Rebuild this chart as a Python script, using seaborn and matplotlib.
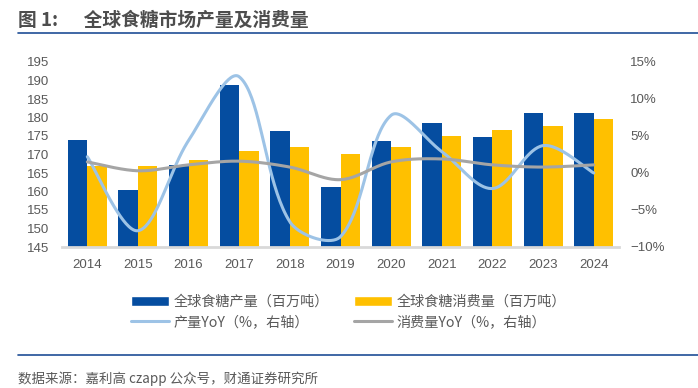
import numpy as np
import matplotlib
matplotlib.use("Agg")
import matplotlib.pyplot as plt
import pandas as pd
import seaborn as sns
from matplotlib.patches import Patch
from matplotlib.lines import Line2D
from matplotlib.ticker import FuncFormatter

# datos
years = ['2014', '2015', '2016', '2017', '2018', '2019', '2020', '2021', '2022', '2023', '2024']
production = [173.9, 160.4, 167.2, 188.8, 176.4, 161.2, 173.6, 178.5, 174.7, 181.2, 181.2]
consumption = [166.9, 167.0, 168.5, 171.0, 172.0, 170.1, 172.0, 175.0, 176.6, 177.7, 179.6]
prod_yoy = [2.2, -7.8, 4.4, 13.0, -6.6, -8.6, 7.8, 2.9, -2.1, 3.7, 0.0]
cons_yoy = [1.5, 0.3, 1.1, 1.6, 0.8, -0.9, 1.5, 1.9, 1.1, 0.8, 1.1]

blue = '#054DA0'
yellow = '#FFC000'
lblue = '#9DC3E6'
grey = '#A5A5A5'
txt = '#595959'

sns.set_style('white')
plt.rcParams['font.family'] = ['Noto Sans CJK SC', 'DejaVu Sans']


def smooth(y, n=40, sx=50.6, sy=7.4):
    # curva suavizada (bezier con tangentes ponderadas por la cuerda, estilo Excel) solo para dibujar
    P = np.column_stack([np.arange(len(y)) * sx, np.asarray(y, dtype=float) * sy])
    Q = np.vstack([P[0], P, P[-1]])
    xs, ys = [], []
    t = np.linspace(0, 1, n, endpoint=False)[:, None]
    for i in range(len(P) - 1):
        p0, p1, p2, p3 = Q[i], Q[i + 1], Q[i + 2], Q[i + 3]
        l0 = np.linalg.norm(p1 - p0)
        l1 = np.linalg.norm(p2 - p1)
        l2 = np.linalg.norm(p3 - p2)
        c1 = p1 + (p2 - p0) * (l1 / (l0 + l1) if l0 > 0 else 0.5) / 3
        c2 = p2 - (p3 - p1) * (l1 / (l1 + l2) if l2 > 0 else 0.5) / 3
        b = (1 - t) ** 3 * p1 + 3 * (1 - t) ** 2 * t * c1 + 3 * (1 - t) * t ** 2 * c2 + t ** 3 * p2
        xs.extend(b[:, 0] / sx)
        ys.extend(b[:, 1] / sy)
    xs.append(P[-1, 0] / sx)
    ys.append(P[-1, 1] / sy)
    return np.array(xs), np.array(ys)


df = pd.DataFrame({
    'year': years * 2,
    'value': production + consumption,
    'series': ['prod'] * len(years) + ['cons'] * len(years),
})

fig = plt.figure(figsize=(6.98, 3.88), dpi=100)
ax = fig.add_axes([62 / 698, 1 - 247 / 388, (619 - 62) / 698, (247 - 62) / 388])

sns.barplot(data=df, x='year', y='value', hue='series', palette=[blue, yellow],
            width=0.77, saturation=1, linewidth=0, legend=False, ax=ax)
ax.set_ylim(145, 195)
ax.set_yticks(range(145, 196, 5))
ax.set_xlim(-0.5, 10.5)
ax.set_xlabel('')
ax.set_ylabel('')
for s in ['top', 'left', 'right']:
    ax.spines[s].set_visible(False)
ax.spines['bottom'].set_color('#D9D9D9')
ax.spines['bottom'].set_linewidth(2)
ax.tick_params(axis='both', length=0, labelsize=9.5, labelcolor=txt)
ax.tick_params(axis='x', pad=9)
ax.tick_params(axis='y', pad=9)
for lab in ax.get_xticklabels() + ax.get_yticklabels():
    lab.set_family('Liberation Sans')

ax2 = ax.twinx()
xs, ys = smooth(prod_yoy)
sns.lineplot(x=xs, y=ys, sort=False, color=lblue, linewidth=2.2, ax=ax2)
xs, ys = smooth(cons_yoy)
sns.lineplot(x=xs, y=ys, sort=False, color=grey, linewidth=2.2, ax=ax2)
ax2.set_ylim(-10, 15)
ax2.set_yticks(range(-10, 16, 5))
ax2.yaxis.set_major_formatter(FuncFormatter(lambda v, p: f'{v:.0f}%'.replace('-', '\u2212')))
for s in ['top', 'left', 'right', 'bottom']:
    ax2.spines[s].set_visible(False)
ax2.tick_params(axis='y', length=0, labelsize=9.5, labelcolor=txt, pad=8)
for lab in ax2.get_yticklabels():
    lab.set_family('Liberation Sans')
ax2.set_xlim(-0.5, 10.5)

handles = [
    Patch(facecolor=blue), Line2D([], [], color=lblue, lw=2.2),
    Patch(facecolor=yellow), Line2D([], [], color=grey, lw=2.2),
]
labels = ['全球食糖产量（百万吨）', '产量YoY（%，右轴）',
          '全球食糖消费量（百万吨）', '消费量YoY（%，右轴）']
fig.legend(handles, labels, ncol=2, loc='upper left', bbox_to_anchor=(118 / 698, 1 - 282 / 388),
           frameon=False, fontsize=10.2, labelcolor=txt, handlelength=2.7, handleheight=0.7,
           handletextpad=0.3, columnspacing=1.8, labelspacing=0.45)

fig.text(18 / 698, 1 - 20 / 388, '图 1:      全球食糖市场产量及消费量', fontsize=13.5,
         fontweight='bold', color='#4D4D4D', va='center', ha='left')
fig.add_artist(Line2D([18 / 698, 1], [1 - 33 / 388] * 2, color='#1F4E96', lw=1.2))
fig.add_artist(Line2D([18 / 698, 1], [1 - 355 / 388] * 2, color='#1F4E96', lw=1.2))
fig.text(18 / 698, 1 - 379 / 388, '数据来源：嘉利高 czapp 公众号，财通证券研究所', fontsize=9.7,
         color=txt, va='center', ha='left')

fig.savefig('out.png', dpi=100)
